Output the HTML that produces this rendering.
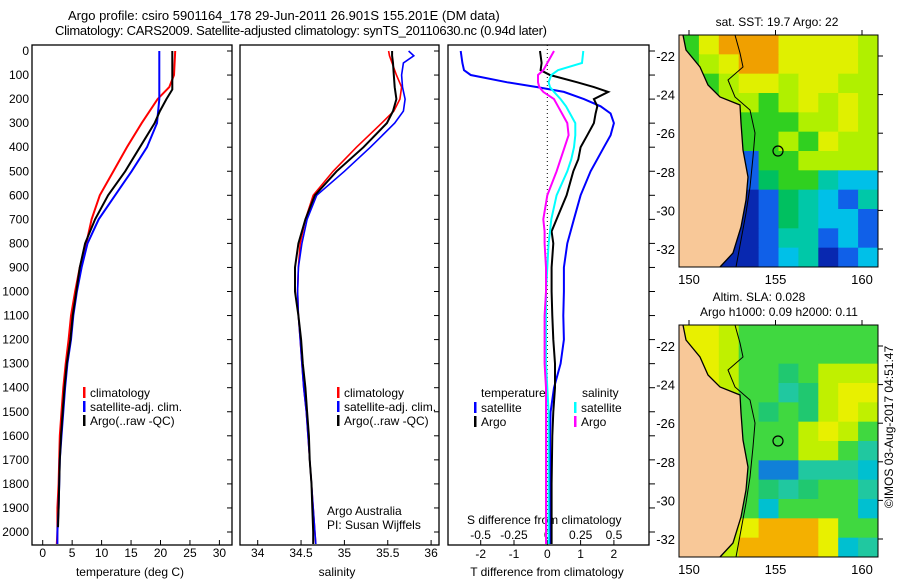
<!DOCTYPE html>
<html><head><meta charset="utf-8">
<style>
html,body{margin:0;padding:0;background:#fff;}
svg{display:block;font-family:"Liberation Sans",sans-serif;}
text{fill:#000;}
</style></head>
<body>
<svg id="chart" width="900" height="580" viewBox="0 0 900 580">
<text x="68" y="20" font-size="13">Argo profile: csiro 5901164_178 29-Jun-2011 26.901S 155.201E (DM data)</text>
<text x="55" y="35" font-size="13" textLength="492">Climatology: CARS2009. Satellite-adjusted climatology: synTS_20110630.nc (0.94d later)</text>
</svg>
<script>
// ---------- data ----------
const depthT = [0,100,150,200,300,400,500,600,700,800,900,1000,1100,1200,1300,1400,1500,1600,1700,1800,1900,2000,2050];
const tempClim = [22.5,22.3,21.5,19.5,16.8,14.3,12.0,9.7,8.3,7.4,6.3,5.5,4.8,4.4,3.9,3.5,3.2,2.9,2.8,2.7,2.5,2.5,2.4];
const tempSat  = [19.8,19.8,19.8,19.8,19.4,17.7,15.1,12.3,9.5,7.6,6.6,5.8,5.2,4.8,4.2,3.8,3.5,3.2,2.9,2.8,2.7,2.5,2.5];
const depthArgo = [0,100,160,200,250,300,400,500,600,700,800,900,1000,1100,1200,1300,1400,1500,1600,1700,1800,1900,1980];
const tempArgo = [22.0,22.0,22.0,21.0,19.9,19.0,16.5,14.0,11.1,8.9,7.2,6.3,5.7,5.1,4.7,4.1,3.7,3.4,3.1,2.9,2.8,2.7,2.6];
const depthS = [0,20,50,100,150,200,250,300,400,500,600,700,800,900,1000,1100,1200,1300,1400,1500,1600,1700,1800,1900,2000,2050];
const salClim = [35.51,35.52,35.55,35.6,35.66,35.64,35.57,35.43,35.14,34.87,34.64,34.55,34.49,34.47,34.46,34.47,34.49,34.51,34.53,34.56,34.58,34.6,34.62,34.64,34.66,34.67];
const salSat  = [35.74,35.8,35.68,35.66,35.67,35.7,35.68,35.58,35.3,35.0,34.68,34.57,34.51,34.47,34.46,34.47,34.49,34.51,34.53,34.56,34.58,34.6,34.62,34.64,34.66,34.67];
const salArgo = [35.55,35.55,35.56,35.57,35.58,35.6,35.56,35.49,35.22,34.91,34.66,34.55,34.47,34.43,34.43,34.47,34.5,34.52,34.55,34.57,34.59,34.6,34.62,34.63,34.64,34.64];
const depthD = [0,50,80,100,130,150,170,200,230,260,300,350,400,450,500,600,700,750,800,900,1000,1100,1200,1300,1400,1500,1600,1800,2000,2050];
const dTsat  = [-2.6,-2.55,-2.5,-2.3,-1.2,-0.3,0.5,1.1,1.6,1.9,2.0,1.9,1.7,1.5,1.3,1.0,0.8,0.7,0.6,0.5,0.5,0.48,0.5,0.4,0.2,0.1,0.08,0.08,0.08,0.08];
const dTargo = [-0.22,-0.17,-0.2,0.08,0.9,1.4,1.83,1.4,1.5,1.45,1.4,1.2,1.0,0.93,0.78,0.58,0.28,0.13,0.18,0.13,0.13,0.15,0.18,0.23,0.23,0.18,0.15,0.13,0.13,0.13];
const dSsat  = [0.27,0.26,0.08,0.03,0.01,0.02,0.05,0.1,0.14,0.17,0.21,0.21,0.2,0.18,0.15,0.07,0.03,0.02,0.01,0.0,-0.01,-0.01,-0.01,-0.01,0.0,0.01,0.01,0.01,0.01,0.01];
const dSargo = [0.05,0.0,-0.03,-0.07,-0.07,-0.06,-0.03,0.05,0.08,0.11,0.15,0.16,0.13,0.1,0.07,0.0,-0.03,-0.02,-0.02,-0.01,-0.01,-0.02,-0.02,-0.02,-0.01,-0.01,-0.01,-0.01,-0.01,-0.01];
const depthTicks = [0,100,200,300,400,500,600,700,800,900,1000,1100,1200,1300,1400,1500,1600,1700,1800,1900,2000];
const tempTicks = [0,5,10,15,20,25,30];
const salTicks = [34,34.5,35,35.5,36];
const dTTicks = [-2,-1,0,1,2];
const dSTicks = [-0.5,-0.25,0,0.25,0.5];
const latTicks = [-22,-24,-26,-28,-30,-32];
const lonTicks = [150,155,160];
const sstGrid = ["GYOOOYYYYL","GLYOOYYYYL","TGLYYLYYLL","TGLLGLYLYL","CTGGGGLLYL","CTGGGLGYLL","CTBBGGLLLL","CTBBgGGTCC","CTBNBgTCBT","CTBNBgTCCB","CBNNBTTBCB","CBNNBCTNBC"];
const slaGrid = ["YYLGGGGGGG","YYLGGGGGGG","YYLGGgGLLL","YYLGGTgLYY","YYLGgGgLYL","YYLGGGLYLG","YYLGGGLLGT","YYLGBBTTTC","YYLGgTgGGT","YYLGCGGGGC","YYLYOOOYGG","YYLOOOOYCT"];

// ---------- helpers ----------
const NS="http://www.w3.org/2000/svg";
const svg=document.getElementById('chart');
function mk(tag,attrs,parent){const e=document.createElementNS(NS,tag);for(const k in attrs)e.setAttribute(k,attrs[k]);(parent||svg).appendChild(e);return e;}
function txt(x,y,s,size,anchor){const t=mk('text',{x:x,y:y,'font-size':size||12,'text-anchor':anchor||'start'});t.textContent=s;return t;}
const Y0=51, DY=0.2405, PT=45, PB=545;
const yD=d=>Y0+d*DY;
const xT=t=>42.7+t*5.89;
const xS=s=>257.7+(s-34)*86.7;
const xDT=v=>547.3+v*33.3;
const xDS=v=>547.3+v*133.3;

function panel(x0,x1,name){
  const r=mk('rect',{x:x0,y:PT,width:x1-x0,height:PB-PT,fill:'none',stroke:'#000','stroke-width':1.3});
  
  
  depthTicks.forEach(d=>{mk('line',{x1:x1-5,x2:x1,y1:yD(d),y2:yD(d),stroke:'#000'});});
}
function line(xs,ds,xf,color,w,name){
  const pts=xs.map((v,i)=>xf(v).toFixed(1)+','+yD(ds[i]).toFixed(1)).join(' ');
  const p=mk('polyline',{points:pts,fill:'none',stroke:color,'stroke-width':w});
  
  
}
function legend(x,y,color,label,name){
  const g=mk('g',{});
  
  
  mk('rect',{x:x,y:y-10,width:2.5,height:11,fill:color},g);
  const t=mk('text',{x:x+7,y:y,'font-size':12},g);t.textContent=label;
}

// ---------- panel 1 ----------
panel(32,232,'temperature-panel');
depthTicks.forEach(d=>{const t=txt(29,yD(d)+4,String(d),12,'end');});
tempTicks.forEach(v=>{mk('line',{x1:xT(v),x2:xT(v),y1:PB-5,y2:PB,stroke:'#000'});txt(xT(v),557,String(v),12,'middle');});
const xl1=txt(130,576,'temperature (deg C)',12,'middle');


line(tempClim,depthT,xT,'#f00',2,'temp-climatology-line');
line(tempSat,depthT,xT,'#00f',2,'temp-satellite-line');
line(tempArgo,depthArgo,xT,'#000',2,'temp-argo-line');
legend(83,397,'#f00','climatology','legend-climatology');
legend(83,411,'#00f','satellite-adj. clim.','legend-satellite');
legend(83,425,'#000','Argo(..raw -QC)','legend-argo');

// ---------- panel 2 ----------
panel(240,439,'salinity-panel');
salTicks.forEach(v=>{mk('line',{x1:xS(v),x2:xS(v),y1:PB-5,y2:PB,stroke:'#000'});txt(xS(v),557,String(v),12,'middle');});
const xl2=txt(337,576,'salinity',12,'middle');


line(salClim,depthS,xS,'#f00',1.6,'sal-climatology-line');
line(salSat,depthS,xS,'#00f',1.6,'sal-satellite-line');
line(salArgo,depthS,xS,'#000',2,'sal-argo-line');
legend(337,397,'#f00','climatology','legend-sal-climatology');
legend(337,411,'#00f','satellite-adj. clim.','legend-sal-satellite');
legend(337,425,'#000','Argo(..raw -QC)','legend-sal-argo');
txt(327,515,'Argo Australia',12);
txt(327,529,'PI: Susan Wijffels',12);

// ---------- panel 3 ----------
const r3=mk('rect',{x:448,y:PT,width:201,height:PB-PT,fill:'none',stroke:'#000','stroke-width':1.3});


depthTicks.forEach(d=>{mk('line',{x1:649,x2:655,y1:yD(d),y2:yD(d),stroke:'#000'});});
mk('line',{x1:xDT(0),x2:xDT(0),y1:PT,y2:PB,stroke:'#000','stroke-dasharray':'1,3'});
dTTicks.forEach(v=>{mk('line',{x1:xDT(v),x2:xDT(v),y1:PB-5,y2:PB,stroke:'#000'});txt(xDT(v),558,String(v),12,'middle');});
dSTicks.forEach(v=>{txt(xDS(v),539,String(v),12,'middle');});
txt(467,524,'S difference from climatology',12);
const xl3=txt(547,576,'T difference from climatology',12,'middle');


line(dTsat,depthD,xDT,'#00f',2,'t-diff-satellite-line');
line(dTargo,depthD,xDT,'#000',2,'t-diff-argo-line');
line(dSsat,depthD,xDS,'#0ff',2,'s-diff-satellite-line');
line(dSargo,depthD,xDS,'#f0f',2,'s-diff-argo-line');
txt(481,397,'temperature',12);
legend(474,412,'#00f','satellite','legend-t-satellite');
legend(474,426,'#000','Argo','legend-t-argo');
txt(582,397,'salinity',12);
legend(574,412,'#0ff','satellite','legend-s-satellite');
legend(574,426,'#f0f','Argo','legend-s-argo');

// ---------- maps ----------
const pal={O:'#f0a000',Y:'#e0f000',L:'#b0f000',G:'#30d020',g:'#00c060',T:'#00c8a8',C:'#00c0e8',B:'#1060e8',N:'#0828b0'};
const palSla={O:'#f4b000',Y:'#e8f000',L:'#c0f000',G:'#40d840',g:'#20c870',T:'#20c8a0',C:'#00c0d0',B:'#1080d8',N:'#0828b0'};
const land=[[0,0],[4,0],[7,15],[21,32],[29,50],[41,62],[61,70],[62,88],[64,115],[69,142],[67,165],[62,192],[54,218],[41,232],[0,232]];
const contour=[[56,0],[61,18],[64,32],[49,45],[56,62],[71,75],[76,98],[74,122],[71,152],[67,178],[62,205],[57,232]];
function map(x0,y0,grid,p,name){
  const W=199,H=232,g=mk('g',{transform:`translate(${x0},${y0})`});
  
  
  const cw=W/grid[0].length, ch=H/grid.length;
  grid.forEach((row,r)=>{[...row].forEach((c,k)=>{mk('rect',{x:k*cw,y:r*ch,width:cw+0.5,height:ch+0.5,fill:p[c]},g);});});
  mk('polygon',{points:land.map(q=>q.join(',')).join(' '),fill:'#f8c898'},g);
  mk('polyline',{points:land.slice(1,-1).map(q=>q.join(',')).join(' '),fill:'none',stroke:'#000','stroke-width':1.3},g);
  mk('polyline',{points:contour.map(q=>q.join(',')).join(' '),fill:'none',stroke:'#000','stroke-width':1},g);
  mk('circle',{cx:99,cy:116,r:5,fill:'none',stroke:'#000','stroke-width':1.2},g);
  mk('rect',{x:0,y:0,width:W,height:H,fill:'none',stroke:'#000','stroke-width':1},g);
  const lonX=v=>10+(v-150)*17.3, latY=v=>21+(-22-v)*19.3;
  lonTicks.forEach(v=>{mk('line',{x1:lonX(v),x2:lonX(v),y1:-5,y2:0,stroke:'#000'},g);const t=mk('text',{x:lonX(v),y:H+17,'font-size':13,'text-anchor':'middle'},g);t.textContent=v;});
  latTicks.forEach(v=>{mk('line',{x1:W,x2:W+5,y1:latY(v),y2:latY(v),stroke:'#000'},g);const t=mk('text',{x:-4,y:latY(v)+5,'font-size':13,'text-anchor':'end'},g);t.textContent=v;});
}
map(679,35,sstGrid,pal,'sst-map');
map(679,325,slaGrid,palSla,'sla-map');
txt(777,26,'sat. SST: 19.7 Argo: 22',12,'middle');
txt(759,301,'Altim. SLA: 0.028',12,'middle');
txt(779,316,'Argo h1000: 0.09 h2000: 0.11',12,'middle');
const side=mk('text',{x:0,y:0,'font-size':12,'text-anchor':'middle',transform:'translate(893,427) rotate(-90)'});
side.textContent='©IMOS 03-Aug-2017 04:51:47';


</script>
</body></html>
